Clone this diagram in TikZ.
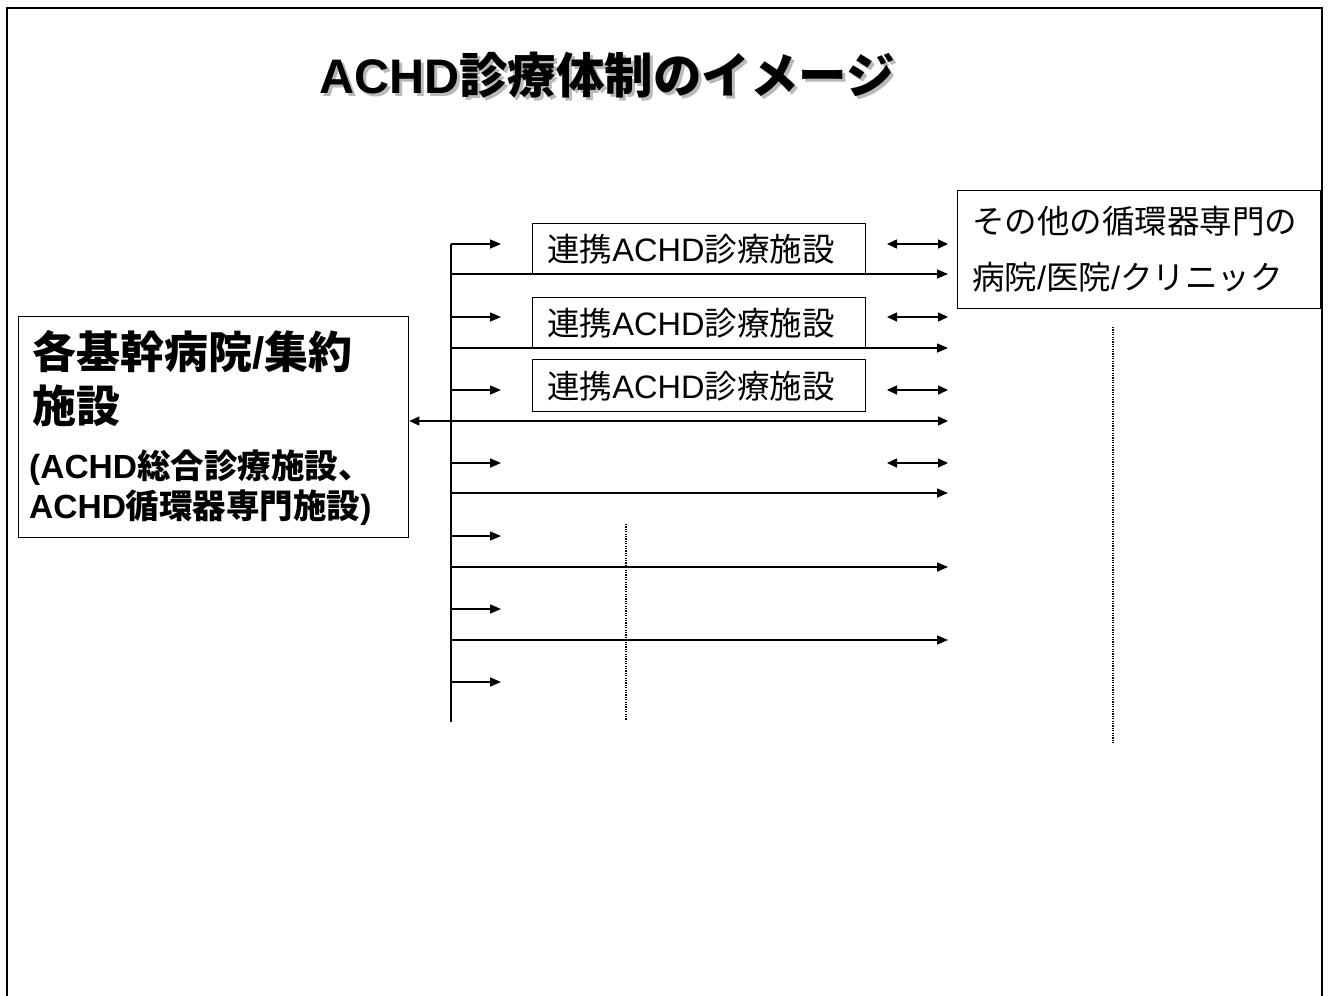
\documentclass[tikz,border=0pt]{standalone}
\usepackage{fontspec}
\setmainfont{Noto Sans CJK JP}
\newfontfamily\lat{Liberation Sans}
\usetikzlibrary{arrows.meta}
\tikzset{
  frameline/.style={line width=1.5pt},
  boxstyle/.style={draw, line width=1.3pt, inner sep=0pt},
  txt/.style={inner sep=0pt, anchor=west},
  conn/.style={line width=1.5pt},
  arr/.style={line width=1.5pt, -{Triangle[length=11pt,width=9pt]}},
  darr/.style={line width=1.5pt, {Triangle[length=10pt,width=9pt]}-{Triangle[length=10pt,width=9pt]}},
  dotline/.style={line width=1.3pt, dash pattern=on 1.2pt off 1.2pt},
  midtxt/.style={font=\fontsize{32.5}{34}\selectfont},
  titlefont/.style={font=\bfseries\fontsize{48.5}{50}\selectfont},
  bigfont/.style={font=\bfseries\fontsize{44}{46}\selectfont},
  smallbold/.style={font=\bfseries\fontsize{33.5}{35}\selectfont}
}
\begin{document}
\begin{tikzpicture}[x=1pt,y=-1pt]
\useasboundingbox (0,0) rectangle (1331,996);
% frame
\draw[frameline] (7,996) -- (7,8) -- (1322,8) -- (1322,996);
% title with shadow
\node[inner sep=0pt, text=gray!55, titlefont] (titleshadow) at (610,78) {{\lat ACHD}診療体制のイメージ};
\node[inner sep=0pt, titlefont] (title) at (607,75) {{\lat ACHD}診療体制のイメージ};
% left hub box
\node[boxstyle, anchor=north west, minimum width=390pt, minimum height=221pt] (hub) at (18,316) {};
\node[txt, bigfont] (hubl1) at (32,352) {各基幹病院{\lat /}集約};
\node[txt, bigfont] (hubl2) at (32,406) {施設};
\node[txt, smallbold] (hubl3) at (29,468) {{\lat (ACHD}総合診療施設、};
\node[txt, smallbold] (hubl4) at (29,508) {{\lat ACHD}循環器専門施設{\lat )}};
% middle boxes
\node[boxstyle, anchor=north west, minimum width=333pt, minimum height=51pt] (m1) at (532,223) {};
\node[midtxt, inner sep=0pt] (m1t) at (691,249) {連携{\lat ACHD}診療施設};
\node[boxstyle, anchor=north west, minimum width=333pt, minimum height=51pt] (m2) at (532,297) {};
\node[midtxt, inner sep=0pt] (m2t) at (691,323) {連携{\lat ACHD}診療施設};
\node[boxstyle, anchor=north west, minimum width=333pt, minimum height=52pt] (m3) at (532,359) {};
\node[midtxt, inner sep=0pt] (m3t) at (691,386) {連携{\lat ACHD}診療施設};
% right box
\node[boxstyle, anchor=north west, minimum width=363pt, minimum height=118pt] (rb) at (957,190) {};
\node[txt, midtxt] (rbl1) at (972,221) {その他の循環器専門の};
\node[txt, midtxt] (rbl2) at (972,277) {病院{\lat /}医院{\lat /}クリニック};
% trunk
\coordinate (tTop) at (451,244);
\coordinate (tBot) at (451,722);
\draw[conn] (tTop) -- (tBot);
% short arrows from trunk
\foreach \i/\y in {1/244,2/317,3/390,4/463,5/536,6/609,7/682}{
  \coordinate (s\i) at (451,\y);
  \coordinate (se\i) at (501,\y);
  \draw[arr] (s\i) -- (se\i);
}
% long arrows from trunk
\foreach \i/\y in {1/274,2/348,4/493,5/567,6/640}{
  \coordinate (l\i) at (451,\y);
  \coordinate (le\i) at (948,\y);
  \draw[arr] (l\i) -- (le\i);
}
% arrow into hub
\coordinate (l3) at (451,421);
\coordinate (le3) at (948,421);
\draw[darr] (hub.east |- l3) -- (le3);
% double arrows
\foreach \i/\y in {1/244,2/317,3/390,4/463}{
  \coordinate (d\i) at (887,\y);
  \coordinate (de\i) at (948,\y);
  \draw[darr] (d\i) -- (de\i);
}
% dotted lines
\coordinate (dA1) at (626,524);
\coordinate (dA2) at (626,720);
\draw[dotline] (dA1) -- (dA2);
\coordinate (dB1) at (1113,327);
\coordinate (dB2) at (1113,743);
\draw[dotline] (dB1) -- (dB2);
\end{tikzpicture}
\end{document}
